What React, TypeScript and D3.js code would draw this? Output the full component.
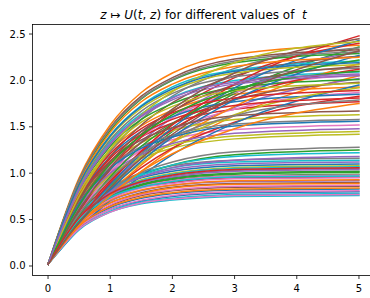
import React from 'react';
import * as d3 from 'd3';

// sample positions along z, and U(t, z) read at those positions for each t
const Z = [0, 0.5, 1, 1.5, 2, 3, 5];

const CURVES: number[][] = [
  [0.02, 0.54, 0.81, 0.95, 1.02, 1.08, 1.10],
  [0.02, 0.78, 1.24, 1.51, 1.68, 1.85, 1.93],
  [0.02, 0.48, 0.86, 1.18, 1.45, 1.86, 2.36],
  [0.02, 0.49, 0.73, 0.85, 0.90, 0.95, 0.96],
  [0.02, 0.57, 1.00, 1.34, 1.60, 1.96, 2.31],
  [0.02, 0.44, 0.65, 0.76, 0.81, 0.85, 0.86],
  [0.02, 0.66, 1.02, 1.24, 1.36, 1.47, 1.52],
  [0.02, 0.73, 1.23, 1.58, 1.83, 2.13, 2.35],
  [0.02, 0.53, 0.79, 0.93, 1.00, 1.06, 1.08],
  [0.02, 0.89, 1.41, 1.73, 1.93, 2.11, 2.21],
  [0.02, 0.41, 0.61, 0.70, 0.75, 0.79, 0.80],
  [0.02, 0.42, 0.75, 1.02, 1.26, 1.62, 2.05],
  [0.02, 0.50, 0.75, 0.88, 0.95, 1.00, 1.02],
  [0.02, 0.71, 1.13, 1.39, 1.54, 1.69, 1.77],
  [0.02, 0.50, 0.88, 1.17, 1.40, 1.71, 2.02],
  [0.02, 0.46, 0.68, 0.79, 0.85, 0.89, 0.90],
  [0.02, 0.64, 1.08, 1.39, 1.60, 1.87, 2.06],
  [0.02, 0.57, 0.85, 1.00, 1.08, 1.14, 1.16],
  [0.02, 0.61, 0.96, 1.16, 1.27, 1.37, 1.42],
  [0.02, 0.84, 1.34, 1.64, 1.82, 2.00, 2.09],
  [0.02, 0.43, 0.63, 0.73, 0.78, 0.82, 0.83],
  [0.02, 0.95, 1.52, 1.87, 2.08, 2.28, 2.38],
  [0.02, 0.51, 0.80, 0.98, 1.09, 1.20, 1.25],
  [0.02, 0.46, 0.80, 1.06, 1.27, 1.55, 1.83],
  [0.02, 0.47, 0.70, 0.81, 0.87, 0.91, 0.92],
  [0.02, 0.93, 1.49, 1.83, 2.03, 2.23, 2.33],
  [0.02, 0.58, 0.98, 1.26, 1.46, 1.69, 1.87],
  [0.02, 0.51, 0.77, 0.90, 0.97, 1.03, 1.05],
  [0.02, 0.70, 1.10, 1.33, 1.46, 1.58, 1.63],
  [0.02, 0.40, 0.59, 0.69, 0.73, 0.77, 0.78],
  [0.02, 0.74, 1.18, 1.45, 1.61, 1.77, 1.85],
  [0.02, 0.44, 0.79, 1.09, 1.34, 1.72, 2.18],
  [0.02, 0.51, 0.75, 0.87, 0.93, 0.97, 0.99],
  [0.02, 0.59, 1.04, 1.39, 1.66, 2.03, 2.40],
  [0.02, 0.55, 0.82, 0.96, 1.04, 1.10, 1.12],
  [0.02, 0.70, 1.18, 1.52, 1.76, 2.05, 2.26],
  [0.02, 0.45, 0.66, 0.77, 0.82, 0.86, 0.87],
  [0.02, 0.86, 1.36, 1.67, 1.86, 2.04, 2.13],
  [0.02, 0.63, 0.98, 1.18, 1.30, 1.40, 1.45],
  [0.02, 0.53, 0.82, 0.99, 1.09, 1.18, 1.22],
  [0.02, 0.40, 0.71, 0.97, 1.20, 1.54, 1.95],
  [0.02, 0.48, 0.71, 0.82, 0.87, 0.92, 0.93],
  [0.02, 0.81, 1.29, 1.58, 1.75, 1.92, 2.01],
  [0.02, 0.53, 0.92, 1.23, 1.47, 1.80, 2.12],
  [0.02, 0.51, 0.76, 0.90, 0.96, 1.02, 1.04],
  [0.02, 0.62, 1.04, 1.33, 1.54, 1.79, 1.98],
  [0.02, 0.42, 0.61, 0.71, 0.76, 0.80, 0.81],
  [0.02, 0.68, 1.06, 1.29, 1.41, 1.53, 1.58],
  [0.02, 0.48, 0.83, 1.11, 1.33, 1.63, 1.92],
  [0.02, 0.56, 0.83, 0.98, 1.06, 1.12, 1.14],
  [0.02, 0.49, 0.88, 1.21, 1.49, 1.92, 2.43],
  [0.02, 0.46, 0.68, 0.78, 0.84, 0.88, 0.89],
  [0.02, 0.92, 1.46, 1.80, 2.00, 2.19, 2.29],
  [0.02, 0.73, 1.16, 1.42, 1.58, 1.73, 1.81],
  [0.02, 0.64, 1.00, 1.20, 1.32, 1.43, 1.48],
  [0.02, 0.67, 1.12, 1.45, 1.67, 1.95, 2.15],
  [0.02, 0.49, 0.72, 0.84, 0.89, 0.94, 0.95],
  [0.02, 0.52, 0.82, 1.01, 1.12, 1.23, 1.28],
  [0.02, 0.87, 1.39, 1.70, 1.89, 2.08, 2.17],
  [0.02, 0.52, 0.78, 0.92, 0.99, 1.05, 1.07],
  [0.02, 0.46, 0.82, 1.13, 1.39, 1.79, 2.27],
  [0.02, 0.43, 0.64, 0.74, 0.79, 0.83, 0.84],
  [0.02, 0.55, 0.96, 1.29, 1.53, 1.88, 2.22],
  [0.02, 0.50, 0.90, 1.24, 1.52, 1.96, 2.48],
  [0.02, 0.51, 0.80, 0.96, 1.06, 1.14, 1.18],
  [0.02, 0.72, 1.13, 1.36, 1.49, 1.62, 1.67],
  [0.02, 0.50, 0.74, 0.86, 0.92, 0.97, 0.98],
  [0.02, 0.56, 0.94, 1.21, 1.39, 1.62, 1.79],
  [0.02, 0.79, 1.26, 1.55, 1.72, 1.89, 1.97],
  [0.02, 0.39, 0.58, 0.67, 0.71, 0.75, 0.76],
  [0.02, 0.67, 1.05, 1.27, 1.39, 1.51, 1.56],
  [0.02, 0.90, 1.44, 1.77, 1.96, 2.15, 2.25],
  [0.02, 0.49, 0.74, 0.87, 0.94, 0.99, 1.01],
  [0.02, 0.76, 1.21, 1.48, 1.65, 1.81, 1.89],
  [0.02, 0.82, 1.31, 1.61, 1.79, 1.96, 2.05],
  [0.02, 0.60, 1.06, 1.42, 1.69, 2.08, 2.45],
  [0.02, 0.40, 0.58, 0.68, 0.72, 0.76, 0.77],
  [0.02, 0.93, 1.48, 1.81, 2.01, 2.21, 2.31],
  [0.02, 0.75, 1.26, 1.63, 1.88, 2.19, 2.42],
  [0.02, 0.50, 0.74, 0.85, 0.91, 0.96, 0.97],
  [0.02, 0.88, 1.40, 1.72, 1.91, 2.10, 2.19],
  [0.02, 0.44, 0.76, 1.02, 1.21, 1.48, 1.75],
  [0.02, 0.65, 1.10, 1.41, 1.63, 1.90, 2.10],
  [0.02, 0.52, 0.78, 0.91, 0.98, 1.04, 1.06],
  [0.02, 0.83, 1.32, 1.62, 1.81, 1.98, 2.07],
  [0.02, 0.47, 0.84, 1.16, 1.42, 1.83, 2.32],
];

const X_TICKS = [0, 1, 2, 3, 4, 5];
const Y_TICKS = [0, 0.5, 1, 1.5, 2, 2.5];

const W = 370;
const H = 298;
const FONT = '"DejaVu Sans", sans-serif';

export default function App() {
  const left = 32.5, right = 374.5, top = 24.5, bottom = 275.5;

  const x = d3.scaleLinear().domain([-0.25, 5.25]).range([left, right]);
  const y = d3.scaleLinear().domain([-0.1024, 2.6026]).range([bottom, top]);
  const color = d3.scaleOrdinal<number, string>(d3.schemeCategory10).domain(d3.range(10));

  const line = d3.line<number>()
    .x((_, i) => x(Z[i]))
    .y(d => y(d))
    .curve(d3.curveMonotoneX);

  return (
    <svg width={W} height={H} style={{ position: 'absolute', left: 0, top: 0, background: '#fff' }}
      fontFamily={FONT}>
      <defs>
        <clipPath id="plot">
          <rect x={left} y={top} width={right - left} height={bottom - top} />
        </clipPath>
      </defs>

      <g clipPath="url(#plot)" fill="none" strokeWidth={1.5} strokeLinejoin="round" strokeLinecap="square">
        {CURVES.map((c, i) => (
          <path key={i} d={line(c) ?? ''} stroke={color(i % 10)} />
        ))}
      </g>

      {/* spines */}
      <rect x={left} y={top} width={right - left} height={bottom - top}
        fill="none" stroke="#000" strokeWidth={0.8} />

      {/* x axis */}
      {X_TICKS.map(t => (
        <g key={t} transform={`translate(${x(t)},${bottom})`}>
          <line y2={3.5} stroke="#000" strokeWidth={0.8} />
          <text y={16.5} textAnchor="middle" fontSize={10} fill="#000">{t}</text>
        </g>
      ))}

      {/* y axis */}
      {Y_TICKS.map(t => (
        <g key={t} transform={`translate(${left},${y(t)})`}>
          <line x2={-3.5} stroke="#000" strokeWidth={0.8} />
          <text x={-7} dy="0.35em" textAnchor="end" fontSize={10} fill="#000">{d3.format('.1f')(t)}</text>
        </g>
      ))}

      <text x={(left + right) / 2} y={18.5} textAnchor="middle" fontSize={12} fill="#000"
        style={{ whiteSpace: 'pre' }}>
        <tspan fontStyle="italic">z</tspan>
        <tspan>{' \u21a6 '}</tspan>
        <tspan fontStyle="italic">U</tspan>
        <tspan>(</tspan>
        <tspan fontStyle="italic">t</tspan>
        <tspan>, </tspan>
        <tspan fontStyle="italic">z</tspan>
        <tspan>{') for different values of  '}</tspan>
        <tspan fontStyle="italic">t</tspan>
      </text>
    </svg>
  );
}
